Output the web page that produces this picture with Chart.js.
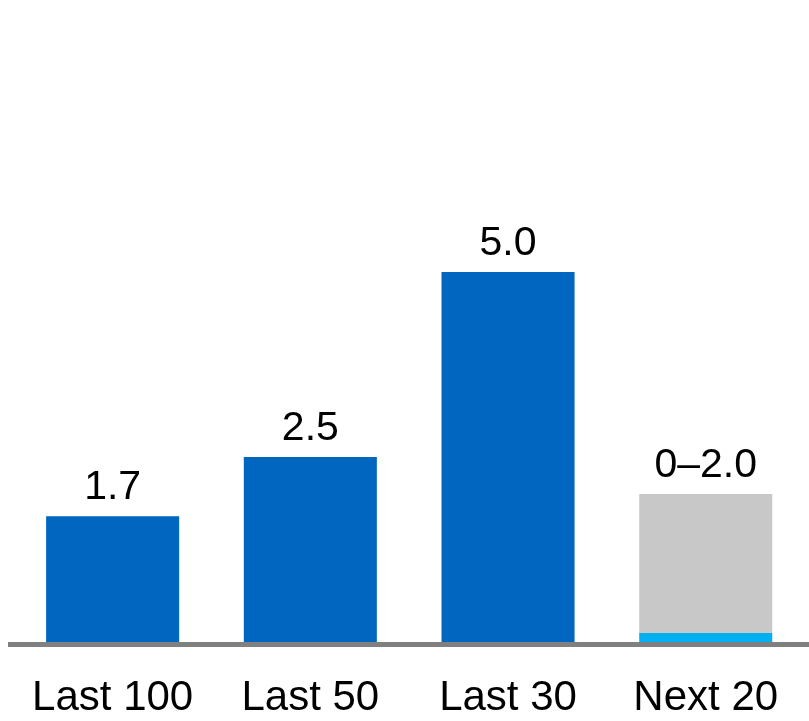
<!DOCTYPE html>
<html>
<head>
<meta charset="utf-8">
<script src="https://cdn.jsdelivr.net/npm/chart.js@4.4.1/dist/chart.umd.min.js"></script>
<style>
  html, body { margin: 0; padding: 0; background: #fff; }
  #wrap { width: 809px; height: 721px; }
</style>
</head>
<body>
<div id="wrap"><canvas id="barChart" width="809" height="721"></canvas></div>
<script>
// categories and values
const categories = ['Last 100', 'Last 50', 'Last 30', 'Next 20'];
const pastValues = [1.7, 2.5, 5.0, null];
const nextLow = [null, null, null, 0.12];
const nextRange = [null, null, null, 1.88];
const valueLabels = ['1.7', '2.5', '5.0', '0\u20132.0'];

const FONT = "'Liberation Sans', Arial, sans-serif";

// baseline under the bars, spanning nearly the full width
const baselinePlugin = {
  id: 'baseline',
  afterDatasetsDraw(chart) {
    const ctx = chart.ctx;
    const y0 = chart.scales.y.getPixelForValue(0);
    ctx.save();
    ctx.fillStyle = '#808080';
    ctx.fillRect(8, y0, chart.width - 8, 5);
    ctx.restore();
  }
};

// value text above each column (top of the stack)
const valueLabelPlugin = {
  id: 'valueLabels',
  afterDatasetsDraw(chart) {
    const ctx = chart.ctx;
    ctx.save();
    ctx.font = '41px ' + FONT;
    ctx.fillStyle = '#000';
    ctx.textAlign = 'center';
    ctx.textBaseline = 'alphabetic';
    categories.forEach((c, i) => {
      let top = null, x = null;
      chart.data.datasets.forEach((ds, di) => {
        if (ds.data[i] == null) return;
        const bar = chart.getDatasetMeta(di).data[i];
        if (top === null || bar.y < top) { top = bar.y; x = bar.x; }
      });
      if (top !== null) ctx.fillText(valueLabels[i], x, top - 17);
    });
    ctx.restore();
  }
};

new Chart(document.getElementById('barChart').getContext('2d'), {
  type: 'bar',
  data: {
    labels: categories,
    datasets: [
      { data: pastValues, backgroundColor: '#0066bf' },
      { data: nextLow, backgroundColor: '#00b0f0' },
      { data: nextRange, backgroundColor: '#c8c8c8' }
    ]
  },
  options: {
    responsive: false,
    animation: false,
    layout: { padding: { left: 10.5, right: 2.5, top: 50, bottom: 0 } },
    datasets: { bar: { barPercentage: 0.673, categoryPercentage: 1 } },
    plugins: { legend: { display: false }, tooltip: { enabled: false } },
    scales: {
      x: {
        stacked: true,
        grid: { display: false, drawTicks: false },
        border: { display: false },
        ticks: { color: '#000', font: { family: FONT, size: 42 }, padding: 31 },
        afterFit: s => { s.height = 79; }
      },
      y: {
        stacked: true,
        display: false,
        min: 0,
        max: 8
      }
    }
  },
  plugins: [baselinePlugin, valueLabelPlugin]
});
</script>
</body>
</html>
